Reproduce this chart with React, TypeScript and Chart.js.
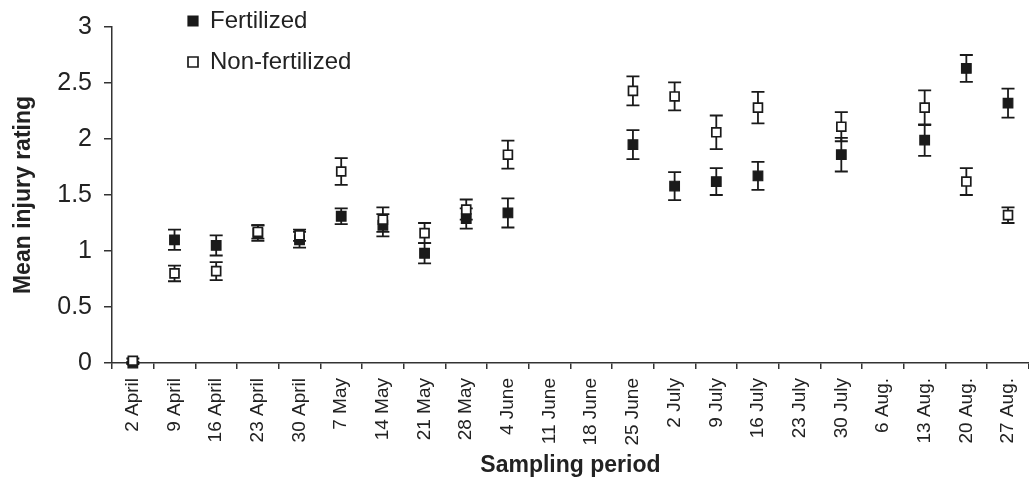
import React, { useEffect, useRef } from "react";
import { Chart, registerables } from "chart.js";

Chart.register(...registerables);

const categories = [
  "2 April", "9 April", "16 April", "23 April", "30 April", "7 May", "14 May",
  "21 May", "28 May", "4 June", "11 June", "18 June", "25 June", "2 July",
  "9 July", "16 July", "23 July", "30 July", "6 Aug.", "13 Aug.", "20 Aug.", "27 Aug.",
];

const fertilized = [
  0.0, 1.1, 1.05, 1.16, 1.1, 1.31, 1.23, 0.98, 1.29, 1.34, null, null,
  1.95, 1.58, 1.62, 1.67, null, 1.86, null, 1.99, 2.63, 2.32,
];
const fertilizedErr = [
  0.01, 0.09, 0.09, 0.07, 0.07, 0.07, 0.1, 0.09, 0.09, 0.13, null, null,
  0.13, 0.125, 0.12, 0.125, null, 0.15, null, 0.14, 0.12, 0.13,
];

const nonFertilized = [
  0.02, 0.8, 0.82, 1.17, 1.14, 1.71, 1.28, 1.16, 1.37, 1.86, null, null,
  2.43, 2.38, 2.06, 2.28, null, 2.11, null, 2.28, 1.62, 1.32,
];
const nonFertilizedErr = [
  0.02, 0.07, 0.08, 0.06, 0.05, 0.12, 0.11, 0.09, 0.09, 0.125, null, null,
  0.13, 0.125, 0.15, 0.14, null, 0.13, null, 0.155, 0.12, 0.07,
];

const yTicks = { min: 0, max: 3, step: 0.5 };

const FONT = "'Liberation Sans', Arial, Helvetica, sans-serif";
const INK = "#1a1a1a";
const TEXT = "#222";

const errorBarPlugin = {
  id: "errorBars",
  beforeDatasetDraw(chart: any, args: any) {
    const ds = chart.data.datasets[args.index];
    const errs: (number | null)[] = ds.errors || [];
    const yScale = chart.scales.y;
    const ctx = chart.ctx;
    ctx.save();
    ctx.strokeStyle = INK;
    ctx.lineWidth = 1.8;
    const cap = 6.5;
    args.meta.data.forEach((pt: any, i: number) => {
      const v = ds.data[i];
      const e = errs[i];
      if (v == null || e == null) return;
      const x = pt.x;
      const yt = yScale.getPixelForValue(v + e);
      const yb = yScale.getPixelForValue(v - e);
      ctx.beginPath();
      ctx.moveTo(x, yt);
      ctx.lineTo(x, yb);
      ctx.moveTo(x - cap, yt);
      ctx.lineTo(x + cap, yt);
      ctx.moveTo(x - cap, yb);
      ctx.lineTo(x + cap, yb);
      ctx.stroke();
    });
    ctx.restore();
  },
};

const legendPlacePlugin = {
  id: "legendPlace",
  afterLayout(chart: any) {
    const lg = chart.legend;
    if (!lg) return;
    const w = lg.width;
    const h = lg.height;
    lg.left = 171;
    lg.top = -8;
    lg.right = lg.left + w;
    lg.bottom = lg.top + h;
  },
};

export default function App() {
  const ref = useRef<HTMLCanvasElement | null>(null);

  useEffect(() => {
    if (!ref.current) return;
    const chart = new Chart(ref.current, {
      type: "line",
      data: {
        labels: categories,
        datasets: [
          {
            label: "Fertilized",
            data: fertilized,
            errors: fertilizedErr,
            showLine: false,
            pointStyle: "rect",
            pointRadius: 6.8,
            pointBorderWidth: 1.2,
            pointBackgroundColor: INK,
            pointBorderColor: INK,
            order: 1,
            clip: false,
          } as any,
          {
            label: "Non-fertilized",
            data: nonFertilized,
            errors: nonFertilizedErr,
            showLine: false,
            pointStyle: "rect",
            pointRadius: 6.3,
            pointBorderWidth: 1.7,
            pointBackgroundColor: "#ffffff",
            pointBorderColor: INK,
            order: 0,
            clip: false,
          } as any,
        ],
      },
      options: {
        responsive: false,
        animation: false,
        layout: { padding: { top: 25, right: 2, left: 0, bottom: 0 } },
        plugins: {
          tooltip: { enabled: false },
          legend: {
            position: "chartArea",
            align: "start",
            labels: {
              usePointStyle: true,
              boxWidth: 10,
              boxHeight: 10,
              padding: 17,
              color: TEXT,
              font: { family: FONT, size: 24 },
              sort: (a: any, b: any) => a.datasetIndex - b.datasetIndex,
            },
          },
        },
        scales: {
          x: {
            type: "category",
            offset: true,
            grid: {
              offset: true,
              drawOnChartArea: false,
              drawTicks: true,
              tickLength: 6,
              color: "#333",
              lineWidth: 1.5,
            },
            border: { display: true, color: "#333", width: 1.5 },
            ticks: {
              autoSkip: false,
              minRotation: 90,
              maxRotation: 90,
              padding: 9,
              color: TEXT,
              font: { family: FONT, size: 19 },
            },
            title: {
              display: true,
              text: "Sampling period",
              color: TEXT,
              font: { family: FONT, size: 23, weight: "bold" },
              padding: { top: 4, bottom: 0 },
            },
            afterFit: (s: any) => {
              s.height = 116;
            },
          },
          y: {
            type: "linear",
            min: yTicks.min,
            max: yTicks.max,
            grid: {
              drawOnChartArea: false,
              drawTicks: true,
              tickLength: 8,
              color: "#333",
              lineWidth: 1.5,
            },
            border: { display: true, color: "#333", width: 1.5 },
            ticks: {
              stepSize: yTicks.step,
              padding: 12,
              color: TEXT,
              font: { family: FONT, size: 25 },
              callback: (v: any) => String(Number(v)),
            },
            title: {
              display: true,
              text: "Mean injury rating",
              color: TEXT,
              font: { family: FONT, size: 23, weight: "bold" },
              padding: { top: 10, bottom: 0 },
            },
            afterFit: (s: any) => {
              s.width = 112;
            },
          },
        },
      } as any,
      plugins: [errorBarPlugin, legendPlacePlugin],
    });
    return () => chart.destroy();
  }, []);

  return (
    <div
      style={{
        position: "fixed",
        left: 0,
        top: 0,
        width: 1029,
        height: 479,
        overflow: "hidden",
        background: "#fff",
      }}
    >
      <canvas ref={ref} width={1040} height={479} style={{ width: 1040, height: 479, display: "block" }} />
    </div>
  );
}
